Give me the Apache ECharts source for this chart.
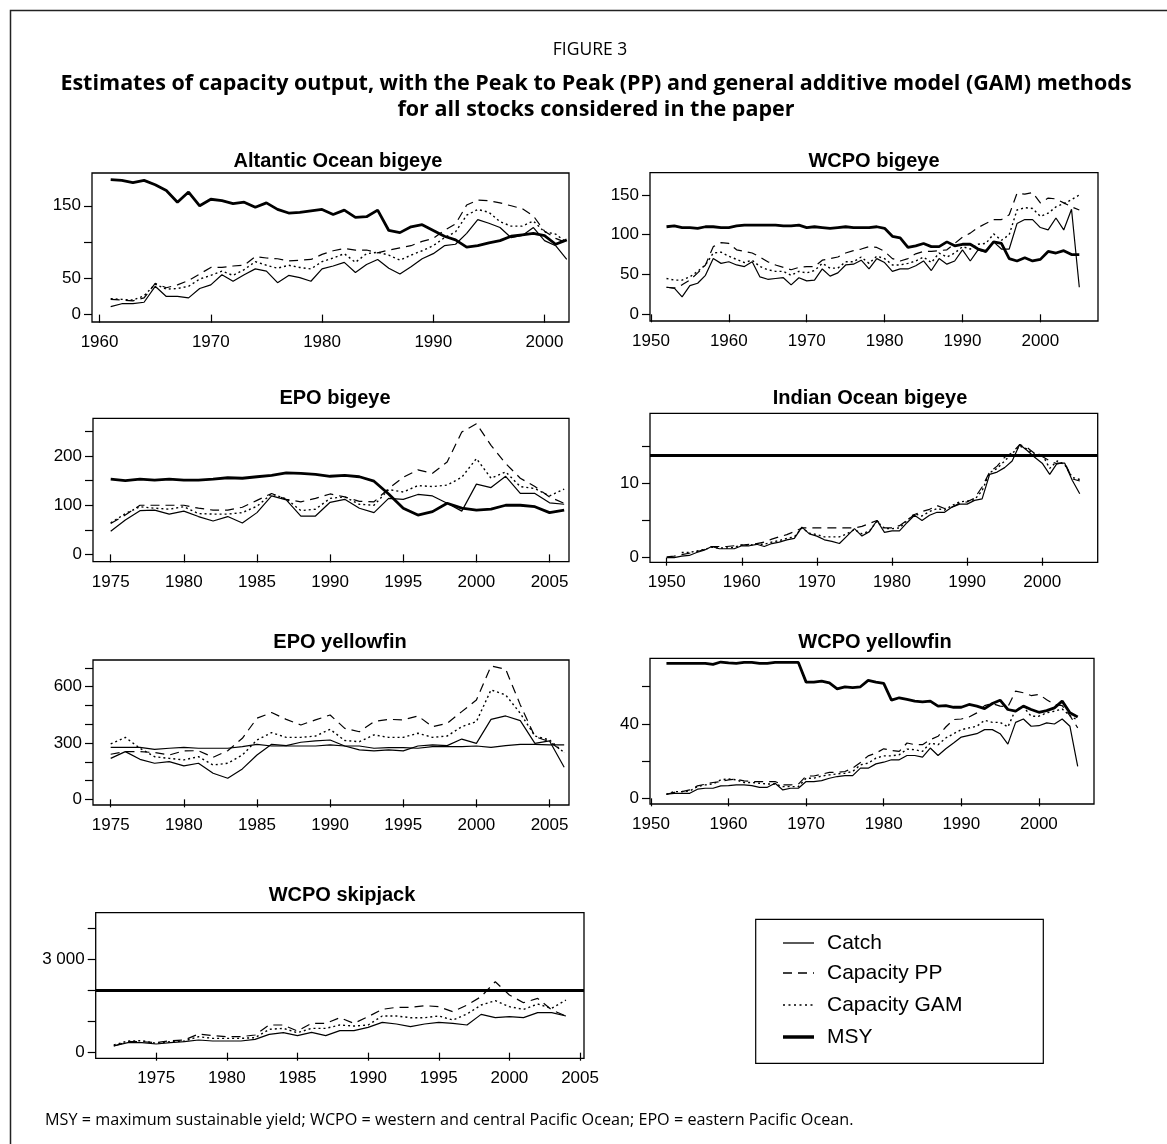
<!DOCTYPE html>
<html>
<head>
<meta charset="utf-8">
<script src="https://cdn.jsdelivr.net/npm/echarts@6/dist/echarts.min.js"></script>
<style>
html,body{margin:0;padding:0;background:#fff;}
#chart{width:1167px;height:1144px;}
</style>
</head>
<body>
<div id="chart"></div>
<script>
// ---------------- DATA ----------------
// Atlantic Ocean bigeye, 1961-2002
const atlStart = 1961;
const atlCatch = [11,15,15,17,39,25,25,23,36,41,55,46,55,63,60,44,54,51,46,63,67,72,58,69,76,64,56,66,77,84,95,97,112,131,126,120,106,109,120,102,95,76];
const atlPP    = [21,20,19,23,43,37,41,47,56,65,65,67,68,80,78,77,74,75,76,83,88,91,89,89,85,89,92,95,101,105,116,125,151,158,157,154,150,146,136,115,105,99];
const atlGAM   = [22,21,20,26,42,35,36,39,49,54,60,54,62,73,68,64,68,65,63,73,78,84,72,84,86,82,75,82,88,95,106,114,137,145,141,128,122,122,129,114,111,99];
const atlMSY   = [186,185,182,185,179,171,155,169,150,159,157,153,155,148,154,145,140,141,143,145,138,144,134,135,144,116,113,121,124,116,108,103,93,95,99,102,108,110,112,109,97,103];

// WCPO bigeye, 1952-2005
const wbStart = 1952;
const wbCatch = [34,33,22,36,39,49,70,64,66,62,60,66,47,44,45,46,37,46,42,43,57,48,52,62,63,68,57,70,65,54,57,57,61,67,55,70,63,67,81,67,81,78,91,82,82,114,119,119,109,106,121,106,132,34];
const wbPP    = [34,33,37,43,52,62,85,90,89,81,79,77,72,66,62,59,56,59,60,60,68,70,72,77,80,82,85,84,79,70,67,70,76,79,79,80,81,89,97,102,109,114,119,119,125,152,151,153,140,146,145,140,135,131];
const wbGAM   = [45,43,43,47,54,62,77,78,73,69,65,68,60,56,54,54,49,54,52,55,64,58,58,66,66,72,64,73,70,62,62,64,67,72,65,77,72,77,85,82,88,89,101,93,100,131,134,133,123,127,135,139,144,150];
const wbMSY   = [110,111,109,109,108,110,110,109,109,111,112,112,112,112,112,111,111,112,109,110,109,108,109,110,109,109,109,110,108,98,96,84,86,89,85,85,91,86,88,88,82,79,91,89,70,67,71,67,69,79,77,80,75,75];

// EPO bigeye, 1975-2006
const ebStart = 1975;
const ebCatch = [47,70,89,90,82,88,77,68,77,64,85,119,111,78,78,106,112,94,85,114,112,122,119,104,88,143,136,159,124,124,105,102];
const ebPP    = [63,80,100,100,100,100,94,90,90,96,110,124,112,107,114,123,117,108,107,134,157,172,165,188,249,266,222,185,155,138,117,104];
const ebGAM   = [64,83,97,94,92,97,83,82,82,85,98,123,113,89,92,114,117,102,100,132,127,140,138,141,157,195,155,168,138,134,119,133];
const ebMSY   = [153,150,153,151,153,151,151,153,156,155,158,161,166,165,163,159,161,158,149,123,94,80,87,104,94,90,92,100,100,97,85,90];

// Indian Ocean bigeye, 1950-2005
const ioStart = 1950;
const ioCatch = [0,0,0.2,0.3,0.7,1.0,1.5,1.2,1.2,1.2,1.6,1.6,1.8,1.5,1.9,2.1,2.4,2.6,4.1,3.2,2.9,2.4,2.2,1.9,2.9,3.9,2.9,3.5,5.0,3.4,3.6,3.6,4.7,5.7,5.0,5.7,6.1,6.1,6.8,7.2,7.2,7.7,7.9,11.2,11.5,12.1,13.0,15.2,14.4,13.5,12.7,11.2,12.7,12.7,10.4,8.6];
const ioPP    = [0.1,0.2,0.4,0.6,0.8,1.1,1.5,1.5,1.5,1.6,1.7,1.8,1.9,2.1,2.5,2.8,3.1,3.5,4.0,4.0,4.0,4.0,4.0,4.0,4.0,4.0,4.2,4.6,5.0,4.0,4.0,4.3,5.0,5.8,6.2,6.5,7.0,6.6,6.8,7.3,7.5,8.0,9.5,11.5,12.3,13.5,14.1,15.2,14.8,14.0,13.6,13.0,12.6,12.8,10.6,10.3];
const ioGAM   = [null,null,0.7,0.7,0.9,1.1,1.4,1.3,1.3,1.4,1.7,1.7,1.8,1.8,2.1,2.3,2.6,2.8,4.0,3.3,3.1,2.8,2.8,2.8,3.2,3.8,3.2,3.6,4.9,3.9,3.9,4.0,5.0,5.9,5.6,6.2,6.6,6.4,7.0,7.5,7.6,7.8,9.0,11.4,12.0,13.0,14.0,15.0,14.6,13.8,13.9,12.0,13.0,12.5,10.8,10.5];
const ioMSY   = 13.8;

// EPO yellowfin, 1975-2006
const eyStart = 1975;
const eyCatch = [218,254,213,192,201,178,192,139,112,162,236,293,286,304,311,316,284,263,258,263,258,284,290,286,321,298,426,444,419,298,311,171];
const eyPP    = [240,254,254,249,236,258,259,224,259,325,432,462,426,396,423,449,378,360,414,426,423,444,387,405,467,529,710,693,503,334,307,249];
const eyGAM   = [295,330,272,227,218,210,227,183,192,236,316,355,330,330,337,373,313,307,343,330,330,352,330,337,387,414,583,556,458,337,316,249];
const eyMSY   = [277,277,277,266,272,277,272,272,272,281,293,284,284,284,284,290,284,284,272,275,275,272,281,281,281,284,277,286,293,293,290,290];

// WCPO yellowfin, 1952-2005
const wyStart = 1952;
const wyCatch = [2.2,2.7,2.7,2.7,4.9,5.4,5.4,6.7,6.8,7.2,7.2,6.8,5.9,5.9,8.1,4.5,5.4,5.4,9,9,9.5,10.8,11.7,12.2,12.2,16.2,16.2,18.5,19.4,20.7,20.7,23,23,22.1,27,23,26.6,29.7,32.9,33.8,34.7,36.9,36.9,34.7,29.1,40.8,42.6,38.7,39,40.5,39.9,42.6,38.7,17.1];
const wyPP    = [2.2,3.2,3.6,4.5,6.7,7.6,8.5,9,9.9,10.3,9.4,9,9,9,9,7.2,7.2,7.6,12,12,13,13.9,13.9,14.4,16.2,19.2,22.8,24.3,26.6,25.7,25.2,29.7,28.8,28.8,31.5,33.3,38.3,42.3,42.6,43.7,45.9,49.8,50.9,49.5,49.1,57.6,56.7,55.2,55.8,53,50.4,49.8,44.4,37.8];
const wyGAM   = [2.2,3.6,3.6,4,6.3,7.2,7.7,9.9,10.4,9.9,8.5,8.5,8.1,7.7,7.7,6.3,6.3,6.3,10.8,10.8,12,12.6,13.1,13.5,14.4,18,18.9,21.6,22.8,22.8,23.4,26.4,26.1,25.2,29.7,28.8,32.4,34.7,36.9,37.8,38.7,41.9,40.8,40.8,38.3,47.7,49.1,44.1,44.1,45.9,46.8,48,44.4,41.9];
const wyMSY   = [72.5,72.5,72.5,72.5,72.5,72.5,71.9,73.2,72.7,72.5,73,73,72.5,72.5,73,73,73,73,62.4,62.4,63,62,58.8,59.9,59.4,59.9,63.3,62.4,61.7,52.7,54,53.1,52.2,51.8,52.2,49.5,49.8,48.9,48.9,50.4,49.5,48.2,50.9,52.7,47.7,46.8,49.5,47.7,46.2,47.1,48.6,52.2,45.9,43.7];

// WCPO skipjack, 1972-2004
const skStart = 1972;
const skCatch = [214,322,322,279,322,354,408,375,375,375,429,590,643,547,654,547,708,708,815,976,922,836,922,976,944,890,1233,1126,1158,1126,1287,1287,1180];
const skPP    = [214,354,354,322,386,408,601,547,515,515,568,890,890,697,944,944,1126,944,1158,1394,1458,1458,1512,1480,1319,1533,1802,2284,1855,1609,1748,1373,1180];
const skGAM   = [247,375,386,300,354,375,515,461,461,461,483,751,783,643,783,783,890,858,890,1180,1180,1126,1126,1180,1051,1244,1533,1673,1480,1394,1566,1426,1694];
const skMSY   = 2000;

// Tick values / labels
const atlXTicks = [1960,1970,1980,1990,2000];
const decXTicks = [1950,1960,1970,1980,1990,2000];
const epoXTicks = [1975,1980,1985,1990,1995,2000,2005];
const atlYTicks = [0,50,100,150],           atlYLabels = [0,50,150];
const wbYTicks  = [0,50,100,150],           wbYLabels  = [0,50,100,150];
const ebYTicks  = [0,50,100,150,200,250],   ebYLabels  = [0,100,200];
const ioYTicks  = [0,5,10,15],              ioYLabels  = [0,10];
const eyYTicks  = [0,100,200,300,400,500,600,700], eyYLabels = [0,300,600];
const wyYTicks  = [0,20,40,60],             wyYLabels  = [0,40];
const skYTicks  = [0,1000,2000,3000,4000],  skYLabels  = [0,3000];

const panelTitles = ['Altantic Ocean bigeye','WCPO bigeye','EPO bigeye','Indian Ocean bigeye','EPO yellowfin','WCPO yellowfin','WCPO skipjack'];
const legendNames = ['Catch','Capacity PP','Capacity GAM','MSY'];

// ---------------- LAYOUT ----------------
const FONT = "'Liberation Sans', Arial, Helvetica, sans-serif";
const HFONT = "'Open Sans', 'Noto Sans', sans-serif";
const DASH = [9,6];
const DOT = [2,3];

const panels = [
  {start:atlStart, c:atlCatch, pp:atlPP, gam:atlGAM, msy:atlMSY, box:[92,173,477,149], tx:338, ty:161, x:[1959.32,2002.2], xt:atlXTicks, y:[-10.2,195.2], yt:atlYTicks, yl:atlYLabels},
  {start:wbStart, c:wbCatch, pp:wbPP, gam:wbGAM, msy:wbMSY, box:[650,172.7,448,148.3], tx:874, ty:161, x:[1949.88,2007.4], xt:decXTicks, y:[-8.4,177.9], yt:wbYTicks, yl:wbYLabels},
  {start:ebStart, c:ebCatch, pp:ebPP, gam:ebGAM, msy:ebMSY, box:[93,418.3,476,143.4], tx:335, ty:398, x:[1973.79,2006.33], xt:epoXTicks, y:[-14.9,277], yt:ebYTicks, yl:ebYLabels},
  {start:ioStart, c:ioCatch, pp:ioPP, gam:ioGAM, msy:ioMSY, box:[650,413.3,447.7,149], tx:870, ty:398, x:[1947.78,2007.39], xt:decXTicks, y:[-0.62,19.4], yt:ioYTicks, yl:ioYLabels},
  {start:eyStart, c:eyCatch, pp:eyPP, gam:eyGAM, msy:eyMSY, msyThin:true, box:[93,660,476,145], tx:340, ty:642, x:[1973.79,2006.33], xt:epoXTicks, y:[-30.2,742], yt:eyYTicks, yl:eyYLabels},
  {start:wyStart, c:wyCatch, pp:wyPP, gam:wyGAM, msy:wyMSY, box:[650,658.3,444,145.7], tx:875, ty:642, x:[1949.88,2007.1], xt:decXTicks, y:[-3.05,75.2], yt:wyYTicks, yl:wyYLabels},
  {start:skStart, c:skCatch, pp:skPP, gam:skGAM, msy:skMSY, box:[95.7,912.7,488.3,145.6], tx:342, ty:895, x:[1970.72,2005.28], xt:epoXTicks, y:[-181,4504], yt:skYTicks, yl:skYLabels}
];

function toXY(start, arr){ return arr.map((v,i)=>[start+i, v]); }
function fmtNum(v){ return v >= 1000 ? String(v).replace(/\B(?=(\d{3})+(?!\d))/g, ' ') : String(v); }

const option = {
  animation:false,
  backgroundColor:'#fff',
  grid:[], xAxis:[], yAxis:[], series:[], graphic:[]
};

panels.forEach((p,i)=>{
  const [l,t,w,h] = p.box;
  option.grid.push({left:l, top:t, width:w, height:h, show:true, borderColor:'#000', borderWidth:1.3,
    backgroundColor:'transparent', containLabel:false, outerBoundsMode:'none'});
  option.xAxis.push({type:'value', gridIndex:i, min:p.x[0], max:p.x[1],
    axisLine:{show:false}, splitLine:{show:false},
    axisTick:{show:true, length:8, customValues:p.xt, lineStyle:{color:'#000', width:1.2}},
    axisLabel:{show:true, customValues:p.xt, margin:12, color:'#000', fontSize:17, fontFamily:FONT, formatter:v=>String(v)}});
  option.yAxis.push({type:'value', gridIndex:i, min:p.y[0], max:p.y[1],
    axisLine:{show:false}, splitLine:{show:false},
    axisTick:{show:true, length:8, customValues:p.yt, lineStyle:{color:'#000', width:1.2}},
    axisLabel:{show:true, customValues:p.yl, margin:11, color:'#000', fontSize:17, fontFamily:FONT, formatter:fmtNum}});
  const base = {type:'line', xAxisIndex:i, yAxisIndex:i, symbol:'none', showSymbol:false, silent:true, emphasis:{disabled:true}, connectNulls:false};
  const catchSeries = Object.assign({}, base, {name:legendNames[0], data:toXY(p.start,p.c), lineStyle:{color:'#000', width:1.2, type:'solid'}, z:3});
  option.series.push(Object.assign({}, base, {name:legendNames[1], data:toXY(p.start,p.pp), lineStyle:{color:'#000', width:1.2, type:DASH}, z:2}));
  option.series.push(Object.assign({}, base, {name:legendNames[2], data:toXY(p.start,p.gam), lineStyle:{color:'#000', width:1.4, type:DOT}, z:2}));
  if (Array.isArray(p.msy)) {
    option.series.push(catchSeries);
    option.series.push(Object.assign({}, base, {name:legendNames[3], data:toXY(p.start,p.msy), lineStyle:{color:'#000', width:p.msyThin?1.2:2.8, type:'solid'}, z:4}));
  } else {
    catchSeries.markLine = {silent:true, symbol:['none','none'], animation:false, label:{show:false},
      lineStyle:{color:'#000', width:3, type:'solid'}, emphasis:{disabled:true}, data:[{yAxis:p.msy}]};
    option.series.push(catchSeries);
  }
  option.graphic.push({type:'text', x:p.tx, y:p.ty, silent:true,
    style:{text:panelTitles[i], font:`bold 20px ${FONT}`, fill:'#000', align:'center', verticalAlign:'middle', textAlign:'center', textVerticalAlign:'middle'}});
});

// frame
option.graphic.push({type:'polyline', silent:true, shape:{points:[[10.5,1144],[10.5,10.5],[1167,10.5]]}, style:{stroke:'#222', lineWidth:1.5, fill:null}});

// header
function txt(s, x, y, font, align){
  return {type:'text', x:x, y:y, silent:true, style:{text:s, font:font, fill:'#000', align:align||'center', verticalAlign:'middle', textAlign:align||'center', textVerticalAlign:'middle'}};
}
option.graphic.push(txt('FIGURE 3', 590, 50, `17.5px ${HFONT}`));
option.graphic.push(txt('Estimates of capacity output, with the Peak to Peak (PP) and general additive model (GAM) methods', 596, 84, `bold 21.5px ${HFONT}`));
option.graphic.push(txt('for all stocks considered in the paper', 596, 110, `bold 21.5px ${HFONT}`));
option.graphic.push(txt('MSY = maximum sustainable yield; WCPO = western and central Pacific Ocean; EPO = eastern Pacific Ocean.', 45, 1120, `16.2px ${HFONT}`, 'left'));

// legend key
const lg = {x:755.7, y:919.3, w:287.6, h:144, lx1:783, lx2:814, tx:827, rows:[943,973,1005,1037]};
option.graphic.push({type:'rect', silent:true, shape:{x:lg.x, y:lg.y, width:lg.w, height:lg.h}, style:{fill:null, stroke:'#000', lineWidth:1.2}});
const legendStyles = [{w:1.3, d:null},{w:1.5, d:[9,6]},{w:1.4, d:[2,3.5]},{w:3.5, d:null}];
legendNames.forEach((n,k)=>{
  const yy = lg.rows[k];
  option.graphic.push({type:'line', silent:true, shape:{x1:lg.lx1, y1:yy, x2:lg.lx2, y2:yy}, style:{stroke:'#000', lineWidth:legendStyles[k].w, lineDash:legendStyles[k].d}});
  option.graphic.push(txt(n, lg.tx, yy, `21px ${FONT}`, 'left'));
});

const chart = echarts.init(document.getElementById('chart'), null, {renderer:'canvas'});
chart.setOption(option);
</script>
</body>
</html>
